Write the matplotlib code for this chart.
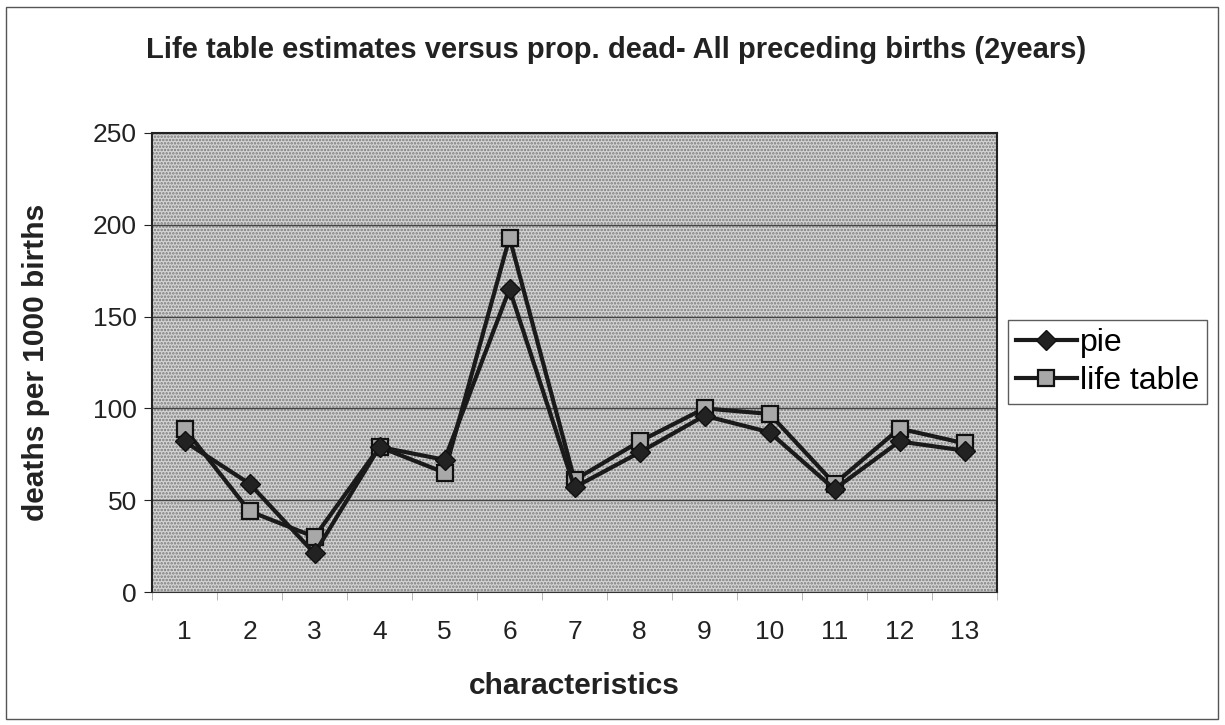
import matplotlib.pyplot as plt
import numpy as np
from matplotlib.patches import Rectangle

plt.rcParams['font.family'] = ['Liberation Sans', 'DejaVu Sans']
plt.rcParams['hatch.linewidth'] = 1.2

# data
categories = [str(i) for i in range(1, 14)]
pie = [82, 59, 21, 79, 72, 165, 57, 76, 96, 87, 56, 82, 77]
life_table = [89, 44, 30, 79, 65, 193, 61, 82, 100, 97, 59, 89, 81]

fig = plt.figure(figsize=(12.25, 7.25), dpi=100)
ax = fig.add_axes([152 / 1225, 1 - 592 / 725, 845 / 1225, 459 / 725])

# outer frame of the chart
fig.patches.append(Rectangle((6 / 1225, 6 / 725), 1212 / 1225, 712 / 725,
                             transform=fig.transFigure, fill=False,
                             edgecolor='#555555', linewidth=1.0))

# dotted plot-area fill
ax.set_facecolor('#d4d4d4')
ax.add_patch(Rectangle((0, 0), 1, 1, transform=ax.transAxes, facecolor='none',
                       edgecolor='#7a7a7a', hatch='.....', linewidth=0, zorder=0))
x = np.arange(1, len(categories) + 1)

ax.plot(x, pie, color='#1a1a1a', linewidth=3, marker='D', markersize=10,
        markerfacecolor='#222222', markeredgecolor='#111111', label='pie', zorder=4)
ax.plot(x, life_table, color='#1a1a1a', linewidth=3, marker='s', markersize=12,
        markerfacecolor='#a8a8a8', markeredgecolor='#111111', markeredgewidth=1.6,
        label='life table', zorder=3)

ax.set_xlim(0.5, len(categories) + 0.5)
ax.set_ylim(0, 250)
ax.set_yticks(range(0, 251, 50))
ax.set_xticks(x)
ax.set_xticklabels(categories)
ax.set_xticks(np.arange(0.5, len(categories) + 1, 1), minor=True)
ax.tick_params(axis='x', which='major', length=0, labelsize=19, pad=20, colors='#222222')
ax.tick_params(axis='x', which='minor', length=6, color='#aaaaaa')
ax.tick_params(axis='y', length=6, labelsize=19, pad=5, colors='#222222')
ax.yaxis.grid(True, color='#444444', linewidth=1.0, zorder=1)
ax.set_axisbelow(True)

for side in ['left', 'right', 'top']:
    ax.spines[side].set_color('#222222')
    ax.spines[side].set_linewidth(1.5)
ax.spines['bottom'].set_color('#333333')

ax.set_xlabel('characteristics', fontsize=21.5, fontweight='bold', labelpad=20, color='#222222')
ax.set_ylabel('deaths per 1000 births', fontsize=21.5, fontweight='bold', labelpad=31, color='#222222')
fig.text(0.503, 1 - 50 / 725, 'Life table estimates versus prop. dead- All preceding births (2years)',
         ha='center', va='center', fontsize=21, fontweight='bold', color='#222222')

leg = fig.legend(loc='center left', bbox_to_anchor=(1008 / 1225, 1 - 362 / 725),
                 fontsize=23, frameon=True, fancybox=False, handlelength=1.9,
                 borderpad=0.25, labelspacing=0.25, handletextpad=0.1,
                 borderaxespad=0)
leg.get_frame().set_edgecolor('#333333')
leg.get_frame().set_linewidth(1.0)

fig.savefig('out.png', dpi=100)
